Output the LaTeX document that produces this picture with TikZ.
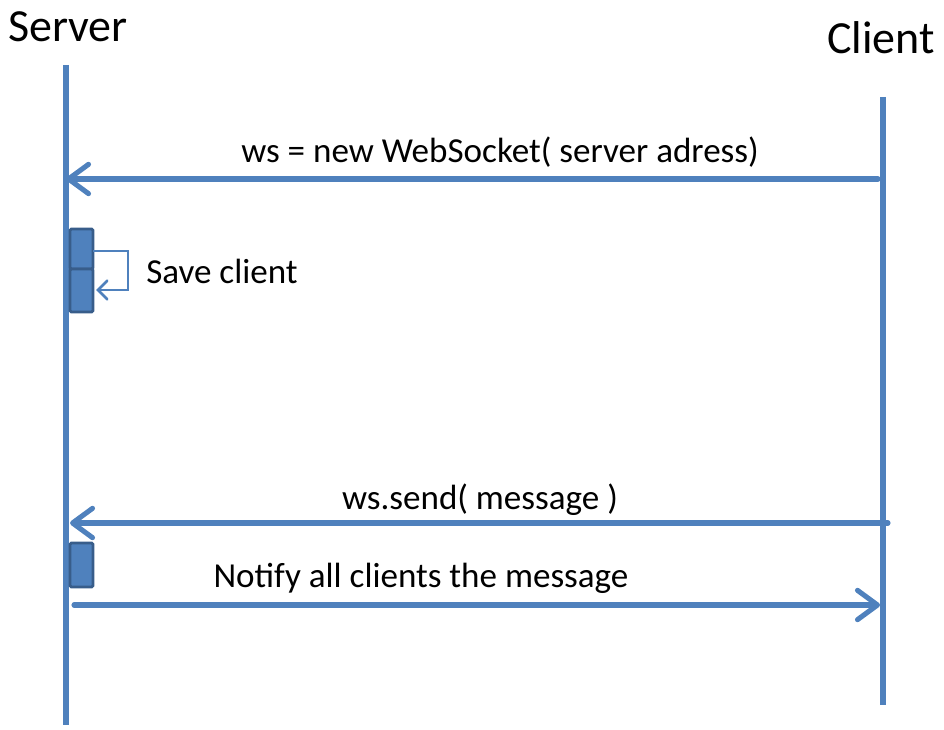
\documentclass[tikz,border=0pt]{standalone}
\usepackage{fontspec}
\setmainfont{Carlito}
\usetikzlibrary{arrows.meta}
\definecolor{lifeblue}{HTML}{4F81BD}
\definecolor{boxedge}{HTML}{385D8A}
\tikzset{
  lifeline/.style={draw=lifeblue,line width=3.8pt},
  msg/.style={draw=lifeblue,line width=3.8pt,line cap=round,
    -{Straight Barb[length=15pt,width=22pt,line width=3.8pt,line cap=round,line join=round]}},
  selfmsg/.style={draw=lifeblue,line width=2pt,
    -{Straight Barb[length=7pt,width=14pt,line width=2pt,line cap=round]}},
  actbox/.style={fill=lifeblue,draw=boxedge,line width=2.2pt,rounded corners=1pt},
  label/.style={font=\fontsize{26.3}{31}\selectfont,inner sep=0pt},
  actor/.style={font=\fontsize{34.5}{40}\selectfont,inner sep=0pt}
}
\begin{document}
\begin{tikzpicture}[x=0.75pt,y=-0.75pt]
\useasboundingbox (0,0) rectangle (944,730);
% actors and lifelines
\node[actor] (server) at (68,27) {Server};
\node[actor] (client) at (881,38) {Client};
\coordinate (sTop) at (66,65);   \coordinate (sBot) at (66,725);
\coordinate (cTop) at (883,97);  \coordinate (cBot) at (883,705);
\draw[lifeline] (sTop) -- (sBot);
\draw[lifeline] (cTop) -- (cBot);
% activation boxes
\draw[actbox] (70,229) rectangle (93,269);
\draw[actbox] (70,269) rectangle (93,312);
\draw[actbox] (70,543) rectangle (93,587);
% messages
\coordinate (m1a) at (878,179); \coordinate (m1b) at (66,179);
\draw[msg] (m1a) -- (m1b);
\node[label] (m1) at (500,152) {ws = new WebSocket( server adress)};
\coordinate (s1a) at (93,251); \coordinate (s1b) at (96,290);
\draw[selfmsg] (s1a) -- (128,251) -- (128,290) -- (s1b);
\node[label] (save) at (222,271) {Save client};
\coordinate (m2a) at (888,523); \coordinate (m2b) at (70,523);
\draw[msg] (m2a) -- (m2b);
\node[label] (m2) at (480,500) {ws.send( message )};
\coordinate (m3a) at (74,605); \coordinate (m3b) at (880,605);
\draw[msg] (m3a) -- (m3b);
\node[label] (m3) at (421,578) {Notify all clients the message};
\end{tikzpicture}
\end{document}
